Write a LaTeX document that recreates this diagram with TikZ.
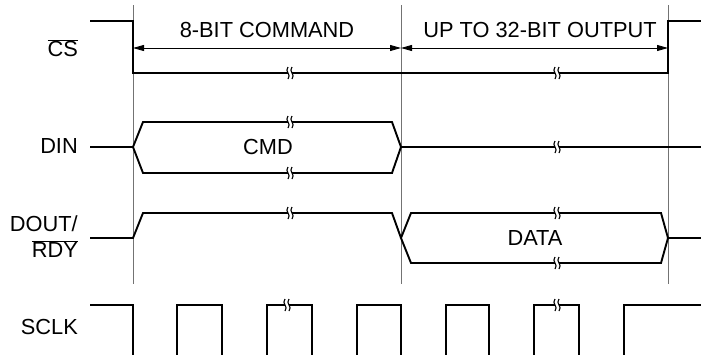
\documentclass[tikz,border=0pt]{standalone}
\usepackage{fontspec}
\setmainfont{Liberation Sans}
\usetikzlibrary{arrows.meta}

\begin{document}
\begin{tikzpicture}[
      x=1pt, y=-1pt,
      wave/.style={line width=1.9pt},
      guide/.style={draw=black!55, line width=0.9pt},
      dim/.style={line width=0.9pt, {Triangle[length=11pt,width=6pt]}-{Triangle[length=11pt,width=6pt]}},
      lbl/.style={font=\fontsize{21.8}{26}\selectfont, inner sep=0pt},
      brk/.pic={
        \fill[white] (-2.4,-1.6) rectangle (2.4,1.6);
        \draw[line width=1.1pt] (-2,-6) .. controls (-6,-1.5) and (2,1.5) .. (-2,6);
        \draw[line width=1.1pt] (2,-6) .. controls (-2,-1.5) and (6,1.5) .. (2,6);
      }
    ]
    \useasboundingbox (0,0) rectangle (701,354);

    % time markers
    \coordinate (tA) at (133,48);
    \coordinate (tB) at (401,48);
    \coordinate (tC) at (668,48);
    \draw[guide] (133,5) -- (133,284);
    \draw[guide] (401,5) -- (401,284);
    \draw[guide] (668,5) -- (668,284);

    % signal names
    \node[lbl, anchor=east] (cs) at (78,48) {$\overline{\mbox{CS}}$};
    \node[lbl, anchor=east] (din) at (78,146) {DIN};
    \node[lbl, anchor=east, align=right] (dout) at (78,237) {DOUT/\\$\overline{\mbox{RDY}}$};
    \node[lbl, anchor=east] (sclk) at (78,327) {SCLK};

    % spans
    \draw[dim] (tA) -- (tB);
    \draw[dim] (tB) -- (tC);
    \node[lbl] (cmdspan) at (267,30) {8-BIT COMMAND};
    \node[lbl] (outspan) at (540,30) {UP TO 32-BIT OUTPUT};

    % CS
    \draw[wave] (90,21) -- (133,21) -- (133,73) -- (668,73) -- (668,21) -- (701,21);
    \pic at (290,73) {brk};
    \pic at (557,73) {brk};

    % DIN
    \draw[wave] (90,147) -- (133,147);
    \draw[wave] (133,147) -- (143,122) -- (392,122) -- (401,147) -- (392,173) -- (143,173) -- cycle;
    \draw[wave] (401,147) -- (701,147);
    \node[lbl] (cmd) at (268,147) {CMD};
    \pic at (290,122) {brk};
    \pic at (290,173) {brk};
    \pic at (557,147) {brk};

    % DOUT/RDY
    \draw[wave] (90,238) -- (133,238) -- (143,213) -- (392,213) -- (401,238);
    \draw[wave] (401,238) -- (411,213) -- (661,213) -- (668,238) -- (661,263) -- (411,263) -- cycle;
    \draw[wave] (668,238) -- (701,238);
    \node[lbl] (data) at (535,238) {DATA};
    \pic at (290,213) {brk};
    \pic at (557,213) {brk};
    \pic at (557,263) {brk};

    % SCLK
    \draw[wave] (90,305) -- (133,305) -- (133,356);
    \foreach \r/\f in {177/222, 267/312, 357/401, 446/489, 534/579}
      \draw[wave] (\r,356) -- (\r,305) -- (\f,305) -- (\f,356);
    \draw[wave] (624,356) -- (624,305) -- (701,305);
    \pic at (287,305) {brk};
    \pic at (557,305) {brk};
  \end{tikzpicture}
\end{document}
